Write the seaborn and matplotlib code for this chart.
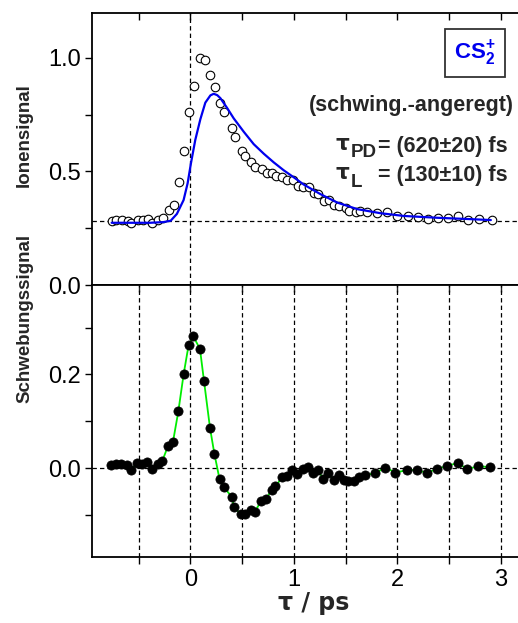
import numpy as np
import pandas as pd
import matplotlib
matplotlib.use("Agg")
import matplotlib.pyplot as plt
from matplotlib.ticker import MultipleLocator, FixedLocator
import seaborn as sns

# ---------------- data ----------------
ion_tau = [-0.758, -0.716, -0.661, -0.606, -0.571, -0.510, -0.461, -0.413, -0.371, -0.316,
           -0.265, -0.210, -0.161, -0.110, -0.058, -0.013, 0.032, 0.090, 0.139, 0.187,
           0.235, 0.290, 0.329, 0.403, 0.429, 0.500, 0.532, 0.590, 0.629, 0.694,
           0.742, 0.790, 0.832, 0.887, 0.935, 0.994, 1.039, 1.090, 1.145, 1.194,
           1.235, 1.290, 1.339, 1.387, 1.435, 1.500, 1.532, 1.597, 1.639, 1.703,
           1.800, 1.897, 1.994, 2.106, 2.200, 2.297, 2.397, 2.494, 2.590, 2.687,
           2.790, 2.919]
ion_sig = [0.283, 0.286, 0.286, 0.283, 0.275, 0.286, 0.286, 0.289, 0.275, 0.286,
           0.294, 0.330, 0.354, 0.452, 0.590, 0.760, 0.877, 1.000, 0.991, 0.925,
           0.874, 0.800, 0.764, 0.692, 0.653, 0.592, 0.570, 0.543, 0.521, 0.510,
           0.495, 0.492, 0.482, 0.474, 0.463, 0.461, 0.438, 0.433, 0.430, 0.404,
           0.401, 0.372, 0.375, 0.354, 0.350, 0.338, 0.328, 0.322, 0.328, 0.320,
           0.316, 0.322, 0.304, 0.306, 0.301, 0.291, 0.294, 0.297, 0.303, 0.286,
           0.292, 0.286]

fit_tau = [-0.76, -0.50, -0.387, -0.26, -0.19, -0.13, -0.065, -0.026, 0.006, 0.048,
           0.097, 0.145, 0.194, 0.226, 0.260, 0.290, 0.355, 0.419, 0.516, 0.613,
           0.710, 0.806, 0.903, 1.000, 1.097, 1.258, 1.420, 1.614, 1.839, 2.065,
           2.388, 2.710, 2.904]
fit_sig = [0.274, 0.274, 0.274, 0.277, 0.283, 0.313, 0.374, 0.448, 0.536, 0.639,
           0.730, 0.803, 0.835, 0.842, 0.836, 0.823, 0.780, 0.734, 0.675, 0.620,
           0.578, 0.540, 0.505, 0.474, 0.442, 0.400, 0.363, 0.334, 0.316, 0.304,
           0.296, 0.290, 0.286]

beat_tau = [-0.762, -0.720, -0.672, -0.611, -0.576, -0.514, -0.466, -0.415, -0.373, -0.312,
            -0.270, -0.215, -0.167, -0.116, -0.064, -0.016, 0.029, 0.093, 0.132, 0.190,
            0.232, 0.283, 0.322, 0.402, 0.421, 0.486, 0.524, 0.588, 0.621, 0.685,
            0.733, 0.785, 0.823, 0.884, 0.936, 0.984, 1.035, 1.087, 1.135, 1.183,
            1.232, 1.286, 1.331, 1.386, 1.434, 1.486, 1.521, 1.585, 1.627, 1.691,
            1.788, 1.884, 1.981, 2.093, 2.186, 2.283, 2.383, 2.479, 2.582, 2.678,
            2.781, 2.894]
beat_sig = [0.0071, 0.0093, 0.0093, 0.0071, -0.0036, 0.0100, 0.0085, 0.0121, -0.0021, 0.0085,
            0.0157, 0.0477, 0.0569, 0.1210, 0.2014, 0.2633, 0.2811, 0.2548, 0.1865, 0.0861,
            0.0313, -0.0242, -0.0406, -0.0612, -0.0826, -0.0982, -0.0982, -0.0897, -0.0940, -0.0698,
            -0.0655, -0.0463, -0.0391, -0.0199, -0.0171, -0.0043, -0.0135, -0.0021, 0.0028, -0.0107,
            -0.0043, -0.0228, -0.0107, -0.0249, -0.0149, -0.0249, -0.0278, -0.0278, -0.0185, -0.0149,
            -0.0107, 0.0014, -0.0093, -0.0043, -0.0036, -0.0100, -0.0021, 0.0050, 0.0107, -0.0014,
            0.0036, 0.0028]

ion_baseline = 0.28
x_major = [0, 1, 2, 3]
x_minor = [-0.5, 0.5, 1.5, 2.5]
x_grid = [-0.5, 0, 0.5, 1, 1.5, 2, 2.5, 3]
top_yticks = [0.0, 0.5, 1.0]
bot_yticks = [0.0, 0.2]

# ---------------- style ----------------
sns.set_theme(style="ticks")
plt.rcParams['font.family'] = ['Liberation Sans', 'DejaVu Sans']
plt.rcParams['mathtext.fontset'] = 'custom'
plt.rcParams['mathtext.rm'] = 'Liberation Sans'
plt.rcParams['mathtext.bf'] = 'Liberation Sans:bold'

W, H = 518, 623
fig = plt.figure(figsize=(W / 100, H / 100), dpi=100)

def fx(x):
    return x / W

def fy(y):
    return 1 - y / H

left_px, right_px = 92, 527
axw = fx(right_px) - fx(left_px)
ax1 = fig.add_axes([fx(left_px), fy(285), axw, fy(12.5) - fy(285)])
ax2 = fig.add_axes([fx(left_px), fy(556.7), axw, fy(285) - fy(556.7)])

xlim = (-0.95, 0.0 + (right_px - 190.3) / 103.5)

df_ion = pd.DataFrame({"tau": ion_tau, "sig": ion_sig})
df_fit = pd.DataFrame({"tau": fit_tau, "sig": fit_sig})
df_beat = pd.DataFrame({"tau": beat_tau, "sig": beat_sig})

dash = (0, (3.5, 2.5))

# top panel
ax1.axvline(0, color='black', lw=0.9, ls=dash, zorder=1)
ax1.axhline(ion_baseline, color='black', lw=0.9, ls=dash, zorder=1)
sns.scatterplot(data=df_ion, x="tau", y="sig", ax=ax1, marker='o', s=38,
                facecolor='white', edgecolor='black', linewidth=0.8, zorder=3)
sns.lineplot(data=df_fit, x="tau", y="sig", ax=ax1, color='#0000ee', lw=1.6,
             sort=False, estimator=None, zorder=4)
ax1.set_xlim(*xlim)
ax1.set_ylim(0, 1.2)

# bottom panel
for xv in x_grid:
    ax2.axvline(xv, color='black', lw=0.9, ls=dash, zorder=1)
ax2.axhline(0, color='black', lw=0.9, ls=dash, zorder=1)
sns.lineplot(data=df_beat, x="tau", y="sig", ax=ax2, color='#00ee00', lw=1.3,
             sort=False, estimator=None, zorder=2)
sns.scatterplot(data=df_beat, x="tau", y="sig", ax=ax2, marker='o', s=44,
                color='black', edgecolor='black', linewidth=0.5, zorder=3)
ax2.set_xlim(*xlim)
ax2.set_ylim(-0.189, 0.391)

for ax in (ax1, ax2):
    for sp in ax.spines.values():
        sp.set_linewidth(1.3)
        sp.set_color('black')
    ax.set_xlabel('')
    ax.set_ylabel('')
    ax.tick_params(axis='both', which='both', width=1.0, length=5, color='black',
                   labelsize=17, labelcolor='black')

# top panel ticks
ax1.yaxis.set_major_locator(FixedLocator(top_yticks))
ax1.yaxis.set_minor_locator(MultipleLocator(0.25))
ax1.set_yticklabels(['0.0', '0.5', '1.0'])
ax1.xaxis.set_major_locator(FixedLocator(x_major))
ax1.xaxis.set_minor_locator(FixedLocator(x_minor))
ax1.tick_params(axis='x', which='both', direction='in', top=True, bottom=False,
                labelbottom=False)
ax1.tick_params(axis='y', which='both', direction='out', left=True, right=False, pad=3)

# bottom panel ticks
ax2.yaxis.set_major_locator(FixedLocator(bot_yticks))
ax2.yaxis.set_minor_locator(MultipleLocator(0.1))
ax2.set_yticklabels(['0.0', '0.2'])
ax2.xaxis.set_major_locator(FixedLocator(x_major))
ax2.xaxis.set_minor_locator(FixedLocator(x_minor))
ax2.set_xticklabels(['0', '1', '2', '3'])
ax2.tick_params(axis='x', which='both', direction='out', top=False, bottom=True, pad=4)
ax2.tick_params(axis='y', which='both', direction='out', left=True, right=False, pad=3)
# inward ticks on the top spine of the lower panel
ax2t = ax2.secondary_xaxis('top')
ax2t.set_xticks(x_grid)
ax2t.tick_params(axis='x', direction='in', length=5, width=1.0, labeltop=False)
ax2t.spines['top'].set_visible(False)

# labels
fig.text(fx(24.5), fy(135), 'Ionensignal', rotation=90, ha='center', va='center',
         fontsize=13.5, fontweight='bold')
fig.text(fx(24.5), fy(318), 'Schwebungssignal', rotation=90, ha='center', va='center',
         fontsize=13.5, fontweight='bold')
fig.text(fx(314), fy(603), 'τ / ps', ha='center', va='center', fontsize=17,
         fontweight='bold', family=['DejaVu Sans'])

# annotations
fig.text(fx(514), fy(111), '(schwing.-angeregt)', ha='right', va='baseline',
         fontsize=15.5, fontweight='bold')
fig.text(fx(336), fy(150), 'τ', ha='left', va='baseline', fontsize=15.5,
         fontweight='bold', family=['DejaVu Sans'])
fig.text(fx(351), fy(157), 'PD', ha='left', va='baseline', fontsize=13.5, fontweight='bold')
fig.text(fx(378), fy(152), '= (620±20) fs', ha='left', va='baseline', fontsize=15.5,
         fontweight='bold')
fig.text(fx(336), fy(179), 'τ', ha='left', va='baseline', fontsize=15.5,
         fontweight='bold', family=['DejaVu Sans'])
fig.text(fx(351), fy(187), 'L', ha='left', va='baseline', fontsize=13.5, fontweight='bold')
fig.text(fx(378), fy(181), '= (130±10) fs', ha='left', va='baseline', fontsize=15.5,
         fontweight='bold')

fig.text(fx(475), fy(53), r'$\mathbf{CS}_{\mathbf{2}}^{\mathbf{+}}$', ha='center', va='center',
         fontsize=16, color='#0000ee',
         bbox=dict(boxstyle='square,pad=0.42', facecolor='white', edgecolor='#333333', lw=1.3))

fig.savefig('out.png', dpi=100)
